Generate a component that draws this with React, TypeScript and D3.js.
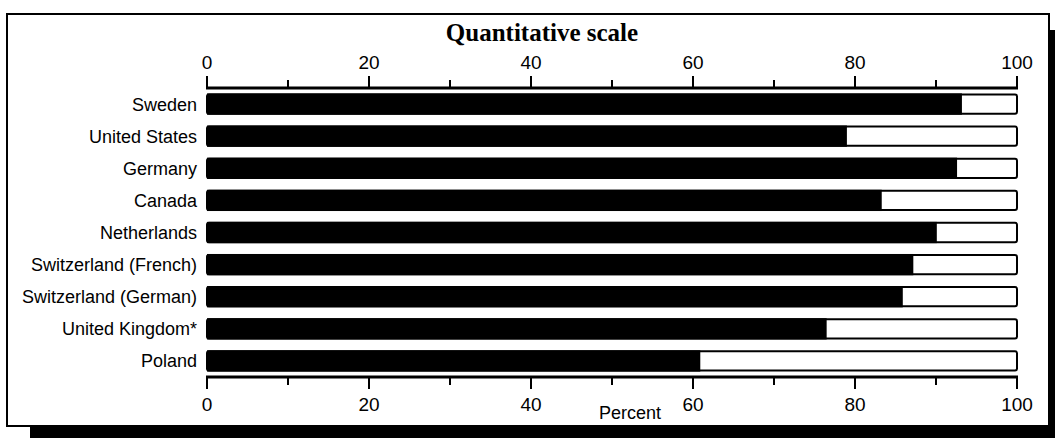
import { useEffect, useRef } from 'react';
import * as d3 from 'd3';

const countries = [
  'Sweden',
  'United States',
  'Germany',
  'Canada',
  'Netherlands',
  'Switzerland (French)',
  'Switzerland (German)',
  'United Kingdom*',
  'Poland',
];
const percents = [93.2, 79.0, 92.6, 83.3, 90.1, 87.2, 85.9, 76.5, 60.9];
const majorTicks = [0, 20, 40, 60, 80, 100];
const minorTicks = [10, 30, 50, 70, 90];

const W = 1055;
const H = 438;

export default function App() {
  const svgRef = useRef<SVGSVGElement>(null);

  useEffect(() => {
    if (!svgRef.current) return;
    const svg = d3.select(svgRef.current);
    svg.selectAll('*').remove();

    const sans = '"Liberation Sans", Arial, Helvetica, sans-serif';
    const serif = '"Liberation Serif", "Times New Roman", serif';

    // frame with drop shadow
    svg.append('rect')
      .attr('x', 30).attr('y', 30)
      .attr('width', W - 30).attr('height', H - 30)
      .attr('fill', '#000');
    svg.append('rect')
      .attr('x', 7).attr('y', 14)
      .attr('width', 1042).attr('height', 412)
      .attr('fill', '#fff')
      .attr('stroke', '#000')
      .attr('stroke-width', 2);

    const x = d3.scaleLinear().domain([0, 100]).range([207, 1017]);
    const y = d3.scaleBand<string>()
      .domain(countries)
      .range([88, 377])
      .paddingInner(0.4)
      .paddingOuter(0.2);

    const rows = countries.map((c, i) => ({ name: c, value: percents[i] }));

    // title
    svg.append('text')
      .attr('x', 542).attr('y', 41)
      .attr('text-anchor', 'middle')
      .style('font-family', serif)
      .style('font-weight', 'bold')
      .style('font-size', '25px')
      .text('Quantitative scale');

    // bars: outlined full-length rect, black fill up to value
    const g = svg.append('g');
    g.selectAll('.full')
      .data(rows)
      .enter().append('rect')
      .attr('class', 'full')
      .attr('x', x(0))
      .attr('y', d => y(d.name)!)
      .attr('width', x(100) - x(0))
      .attr('height', y.bandwidth())
      .attr('rx', 2)
      .attr('fill', '#fff')
      .attr('stroke', '#000')
      .attr('stroke-width', 2);

    g.selectAll('.val')
      .data(rows)
      .enter().append('rect')
      .attr('class', 'val')
      .attr('x', x(0))
      .attr('y', d => y(d.name)! - 1)
      .attr('width', d => x(d.value) - x(0))
      .attr('height', y.bandwidth() + 2)
      .attr('fill', '#000');

    // country labels
    g.selectAll('.lbl')
      .data(rows)
      .enter().append('text')
      .attr('class', 'lbl')
      .attr('x', 197)
      .attr('y', d => y(d.name)! + y.bandwidth() / 2)
      .attr('dy', '0.36em')
      .attr('text-anchor', 'end')
      .style('font-family', sans)
      .style('font-size', '18px')
      .text(d => d.name);

    // axes (top and bottom)
    const drawAxis = (yLine: number, dir: number, labelY: number) => {
      const a = svg.append('g');
      a.append('line')
        .attr('x1', x(0) - 1).attr('x2', x(100) + 1)
        .attr('y1', yLine).attr('y2', yLine)
        .attr('stroke', '#000').attr('stroke-width', 3);
      a.selectAll('.maj')
        .data(majorTicks)
        .enter().append('line')
        .attr('x1', d => x(d)).attr('x2', d => x(d))
        .attr('y1', yLine).attr('y2', yLine + dir * 12)
        .attr('stroke', '#000').attr('stroke-width', 2);
      a.selectAll('.min')
        .data(minorTicks)
        .enter().append('line')
        .attr('x1', d => x(d)).attr('x2', d => x(d))
        .attr('y1', yLine).attr('y2', yLine + dir * 8)
        .attr('stroke', '#000').attr('stroke-width', 2);
      a.selectAll('.tl')
        .data(majorTicks)
        .enter().append('text')
        .attr('x', d => x(d))
        .attr('y', labelY)
        .attr('text-anchor', 'middle')
        .style('font-family', sans)
        .style('font-size', '19px')
        .text(d => String(d));
    };
    drawAxis(88, -1, 69);
    drawAxis(377, 1, 411);

    svg.append('text')
      .attr('x', 630).attr('y', 419)
      .attr('text-anchor', 'middle')
      .style('font-family', sans)
      .style('font-size', '18px')
      .text('Percent');
  }, []);

  return (
    <svg
      ref={svgRef}
      width={W}
      height={H}
      style={{ position: 'absolute', left: 0, top: 0, background: '#fff' }}
    />
  );
}
